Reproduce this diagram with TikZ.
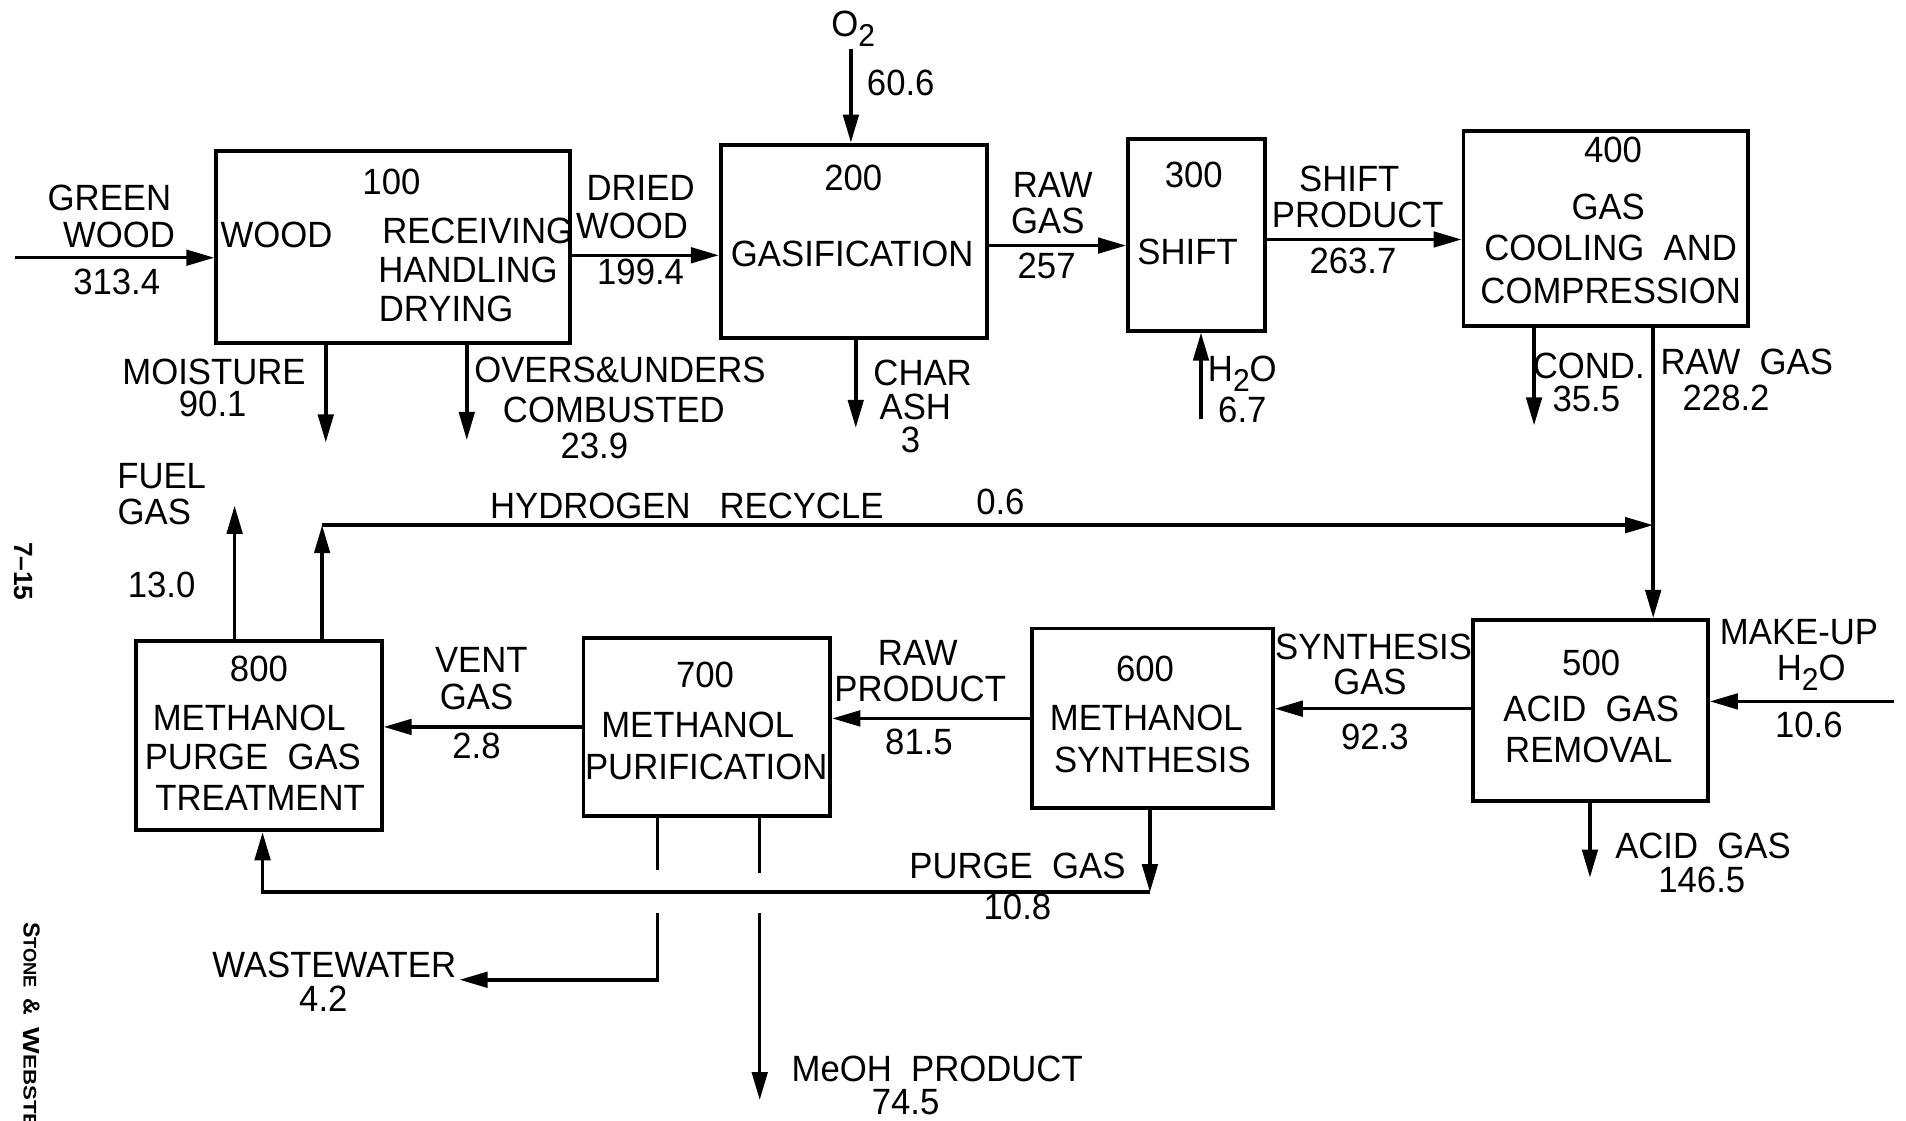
\documentclass[tikz,border=0pt]{standalone}
\usepackage{fontspec}
\setmainfont{Liberation Sans}[FakeStretch=0.95]
\newfontfamily\swfont{Liberation Sans}
\newfontfamily\swwide{Liberation Sans}[FakeStretch=1.22]
\usetikzlibrary{arrows.meta,fit}
\newcommand\lbfont{\fontsize{10.4}{10.4}\selectfont}
\newcommand\sbt[1]{\raisebox{-0.5ex}{\fontsize{9}{9}\selectfont #1}}
\tikzset{
  procbox/.style={draw, line width=1.1pt, inner sep=0pt},
  ln/.style={line width=1pt},
  arr/.style={line width=1pt, -{Triangle[length=8pt,width=4.4pt]}},
  lbl/.style={inner sep=0pt, font=\lbfont},
  blbl/.style={inner sep=0pt, font=\lbfont, anchor=base},
}
\begin{document}
\begin{tikzpicture}[x=0.012156cm, y=-0.012156cm]
\useasboundingbox (0,0) rectangle (1568,922);

% ---------- process boxes ----------
\node[procbox, fit={(178,124) (469,282)}] (b100) {};
\node[procbox, fit={(593,119) (812,278)}] (b200) {};
\node[procbox, fit={(928,114) (1041,272)}] (b300) {};
\node[procbox, fit={(1204,108) (1438,268)}] (b400) {};
\node[procbox, fit={(1212,510) (1405,659)}] (b500) {};
\node[procbox, fit={(849,517) (1047,665)}] (b600) {};
\node[procbox, fit={(480,525) (683,671)}] (b700) {};
\node[procbox, fit={(112,527) (314,683)}] (b800) {};

% ---------- box texts ----------
\node[lbl] (t100) at (322,150) {100};
\node[lbl, anchor=west] (t100a) at (181,193) {WOOD};
\node[lbl] (t100b) at (393,190) {RECEIVING};
\node[lbl] (t100c) at (385,222) {HANDLING};
\node[lbl] (t100d) at (367,254) {DRYING};

\node[lbl] (t200) at (702,146) {200};
\node[lbl] (t200a) at (701,209) {GASIFICATION};

\node[lbl] (t300) at (982,144) {300};
\node[lbl] (t300a) at (977,207) {SHIFT};

\node[lbl] (t400) at (1327,123) {400};
\node[lbl] (t400a) at (1323,170) {GAS};
\node[lbl] (t400b) at (1325,204) {COOLING\ \ AND};
\node[lbl] (t400c) at (1325,239) {COMPRESSION};

\node[lbl] (t500) at (1309,545) {500};
\node[lbl] (t500a) at (1309,583) {ACID\ \ GAS};
\node[lbl] (t500b) at (1307,617) {REMOVAL};

\node[lbl] (t600) at (942,550) {600};
\node[lbl] (t600a) at (943,591) {METHANOL};
\node[lbl] (t600b) at (948,625) {SYNTHESIS};

\node[lbl] (t700) at (580,555) {700};
\node[lbl] (t700a) at (574,596) {METHANOL};
\node[lbl] (t700b) at (581,631) {PURIFICATION};

\node[lbl] (t800) at (213,550) {800};
\node[lbl] (t800a) at (205,591) {METHANOL};
\node[lbl] (t800b) at (208,623) {PURGE\ \ GAS};
\node[lbl] (t800c) at (214,656) {TREATMENT};

% ---------- free ends ----------
\coordinate (gw) at (12,212);
\coordinate (o2) at (700,40);
\coordinate (char) at (704,352);
\coordinate (h2o) at (988,345);
\coordinate (cond) at (1262,350);
\coordinate (rg) at (1360,0);
\coordinate (hrA) at (265,432);
\coordinate (hrB) at (1360,432);
\coordinate (fuel) at (193,416);
\coordinate (mu) at (1558,577);
\coordinate (acid) at (1308,722);
\coordinate (pgA) at (946,734);
\coordinate (pgB) at (216,734);
\coordinate (wwA) at (541,716);
\coordinate (wwB) at (541,751);
\coordinate (wwC) at (541,806);
\coordinate (wwD) at (378,806);
\coordinate (mpA) at (625,718);
\coordinate (mpB) at (625,751);
\coordinate (mpC) at (625,905);

% ---------- connectors ----------
\draw[arr] (gw) -- (b100.west |- gw);
\draw[arr] (b100.east |- 0,210) -- (b200.west |- 0,210);
\draw[arr] (o2) -- (b200.north -| o2);
\draw[arr] (b100.south -| 268,0) -- (268,364);
\draw[arr] (b100.south -| 384,0) -- (384,362);
\draw[arr] (b200.south -| char) -- (char);
\draw[arr] (b200.east |- 0,202) -- (b300.west |- 0,202);
\draw[arr] (h2o) -- (b300.south -| h2o);
\draw[arr] (b300.east |- 0,197) -- (b400.west |- 0,197);
\draw[arr] (b400.south -| cond) -- (cond);
\draw[arr] (b400.south -| rg) -- (b500.north -| rg);
\draw[arr] (b800.north -| hrA) -- (hrA);
\draw[arr] (hrA) -- (hrB);
\draw[arr] (b800.north -| fuel) -- (fuel);
\draw[arr] (mu) -- (b500.east |- mu);
\draw[arr] (b500.south -| acid) -- (acid);
\draw[arr] (b500.west |- 0,583) -- (b600.east |- 0,583);
\draw[arr] (b600.west |- 0,591) -- (b700.east |- 0,591);
\draw[arr] (b700.west |- 0,598) -- (b800.east |- 0,598);
\draw[arr] (b600.south -| pgA) -- (pgA);
\draw[arr] (pgA) -- (pgB) -- (b800.south -| pgB);
\draw[ln] (b700.south -| wwA) -- (wwA);
\draw[arr] (wwB) -- (wwC) -- (wwD);
\draw[ln] (b700.south -| mpA) -- (mpA);
\draw[arr] (mpB) -- (mpC);

% ---------- stream labels ----------
\node[lbl] (l1) at (90,163) {GREEN};
\node[lbl] (l2) at (98,193) {WOOD};
\node[lbl] (l3) at (96,232) {313.4};
\node[lbl] (l4) at (527,155) {DRIED};
\node[lbl] (l5) at (520,186) {WOOD};
\node[lbl] (l6) at (527,224) {199.4};
\node[blbl] (l7) at (702,30) {O\sbt{2}};
\node[lbl] (l8) at (741,68) {60.6};
\node[lbl] (l9) at (176,306) {MOISTURE};
\node[lbl] (l10) at (175,332) {90.1};
\node[lbl] (l11) at (510,304) {OVERS\&UNDERS};
\node[lbl] (l12) at (505,337) {COMBUSTED};
\node[lbl] (l13) at (489,367) {23.9};
\node[lbl] (l14) at (759,307) {CHAR};
\node[lbl] (l15) at (753,335) {ASH};
\node[lbl] (l16) at (749,362) {3};
\node[lbl] (l17) at (866,152) {RAW};
\node[lbl] (l18) at (862,182) {GAS};
\node[lbl] (l19) at (861,219) {257};
\node[blbl] (l20) at (1022,314) {H\sbt{2}O};
\node[lbl] (l21) at (1022,337) {6.7};
\node[lbl] (l22) at (1110,147) {SHIFT};
\node[lbl] (l23) at (1117,177) {PRODUCT};
\node[lbl] (l24) at (1113,215) {263.7};
\node[lbl] (l25) at (1307,301) {COND.};
\node[lbl] (l26) at (1305,328) {35.5};
\node[lbl] (l27) at (1437,298) {RAW\ \ GAS};
\node[lbl] (l28) at (1420,327) {228.2};
\node[lbl] (l29) at (133,392) {FUEL};
\node[lbl] (l30) at (127,421) {GAS};
\node[lbl] (l31) at (133,481) {13.0};
\node[lbl] (l32) at (565,416) {HYDROGEN\ \ \ RECYCLE};
\node[lbl] (l33) at (823,413) {0.6};
\node[lbl] (l34) at (1480,520) {MAKE-UP};
\node[blbl] (l35) at (1490,560) {H\sbt{2}O};
\node[lbl] (l36) at (1488,596) {10.6};
\node[lbl] (l37) at (1130,532) {SYNTHESIS};
\node[lbl] (l38) at (1127,561) {GAS};
\node[lbl] (l39) at (1131,606) {92.3};
\node[lbl] (l40) at (755,537) {RAW};
\node[lbl] (l41) at (757,567) {PRODUCT};
\node[lbl] (l42) at (756,610) {81.5};
\node[lbl] (l43) at (396,543) {VENT};
\node[lbl] (l44) at (392,573) {GAS};
\node[lbl] (l45) at (392,614) {2.8};
\node[lbl] (l46) at (1401,696) {ACID\ \ GAS};
\node[lbl] (l47) at (1400,724) {146.5};
\node[lbl] (l48) at (837,712) {PURGE\ \ GAS};
\node[lbl] (l49) at (837,746) {10.8};
\node[lbl] (l50) at (275,794) {WASTEWATER};
\node[lbl] (l51) at (266,822) {4.2};
\node[lbl] (l52) at (771,879) {MeOH\ \ PRODUCT};
\node[lbl] (l53) at (745,907) {74.5};

% ---------- margin notes ----------
\node[inner sep=0pt, rotate=-90, font=\swfont\fontsize{7.5}{7.5}\selectfont\bfseries] (pg) at (19,470) {7\textendash 15};
\node[inner sep=0pt, rotate=-90, anchor=west, font=\swfont\bfseries] (sw) at (26,758)
  {\fontsize{6.6}{6.6}\selectfont S\fontsize{5.2}{5.2}\selectfont TONE\ \ \fontsize{6.6}{6.6}\selectfont\&\ \ {\swwide\bfseries W\fontsize{5.2}{5.2}\selectfont EBSTER}};
\end{tikzpicture}
\end{document}
